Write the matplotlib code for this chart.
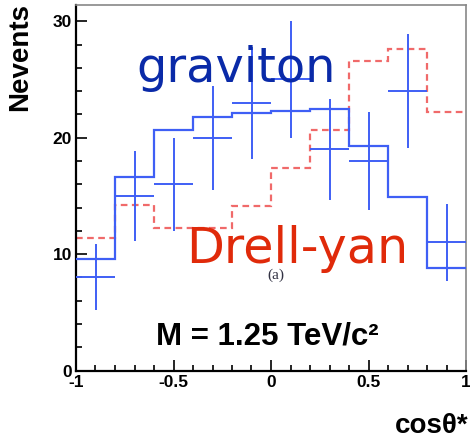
import numpy as np
import matplotlib
matplotlib.use("Agg")
import matplotlib.pyplot as plt
from matplotlib.ticker import MultipleLocator

# bin edges in cos(theta*)
edges = np.linspace(-1, 1, 11)
centers = 0.5 * (edges[:-1] + edges[1:])

# graviton expectation (solid blue histogram)
graviton = [9.6, 16.6, 20.7, 21.8, 22.1, 22.3, 22.5, 19.3, 14.9, 8.8]
# Drell-Yan expectation (dashed red histogram)
drell_yan = [11.4, 14.2, 12.2, 12.2, 14.1, 17.4, 20.7, 26.6, 27.6, 22.2]
# simulated events (crosses)
events = [8, 15, 16, 20, 23, 25, 19, 18, 24, 11]

plt.rcParams["font.family"] = ["Liberation Sans", "DejaVu Sans"]

fig = plt.figure(figsize=(4.7, 4.4), dpi=100)
ax = fig.add_axes([76 / 470, 69.5 / 440, 390 / 470, 365.5 / 440])

blue = "#3f5ff5"
red = "#f06a6a"

ax.stairs(graviton, edges, baseline=None, color=blue, lw=1.6, zorder=3)
ax.stairs(drell_yan, edges, baseline=None, color=red, lw=1.6,
          linestyle=(0, (3, 2)), zorder=2)
ax.errorbar(centers, events, xerr=0.1, yerr=np.sqrt(events), fmt="none",
            ecolor=blue, elinewidth=1.4, capsize=0, zorder=4)

ax.set_xlim(-1, 1)
ax.set_ylim(0, 31.4)

ax.xaxis.set_minor_locator(MultipleLocator(0.1))
ax.yaxis.set_major_locator(MultipleLocator(10))
ax.yaxis.set_minor_locator(MultipleLocator(2))
ax.set_xticks([-1, -0.5, 0, 0.5, 1])
ax.set_xticklabels(["-1", "-0.5", "0", "0.5", "1"])
ax.tick_params(which="both", direction="in", top=False, right=False, width=1.2)
ax.tick_params(which="major", length=8, labelsize=12.5, pad=3)
ax.tick_params(which="minor", length=4.5)
for lab in ax.get_xticklabels() + ax.get_yticklabels():
    lab.set_fontweight("bold")

for s in ("left", "bottom"):
    ax.spines[s].set_linewidth(1.6)
    ax.spines[s].set_color("black")
for s in ("top", "right"):
    ax.spines[s].set_linewidth(1.2)
    ax.spines[s].set_color("#888888")

fig.text(20 / 470, 1 - 3 / 440, "Nevents", rotation=90, ha="center", va="top",
         fontsize=20, fontweight="bold")
fig.text(468 / 470, 1 - 433 / 440, "cosθ*", ha="right", va="baseline",
         fontsize=20, fontweight="bold")

ax.text(-0.69, 24.8, "graviton", color="#0a2aa8", fontsize=34.5,
        family="DejaVu Sans", va="baseline", ha="left", zorder=5)
ax.text(-0.433, 9.24, "Drell-yan", color="#e02a0a", fontsize=35.5,
        family="DejaVu Sans", va="baseline", ha="left", zorder=5)
ax.text(0.026, 8.2, "(a)", fontsize=11, family="Liberation Serif",
        color="#333344", ha="center", va="center", zorder=5)
ax.text(-0.018, 2.2, "M = 1.25 TeV/c²", fontsize=22.5, fontweight="bold",
        ha="center", va="baseline", zorder=5)

fig.savefig("out.png", dpi=100)
